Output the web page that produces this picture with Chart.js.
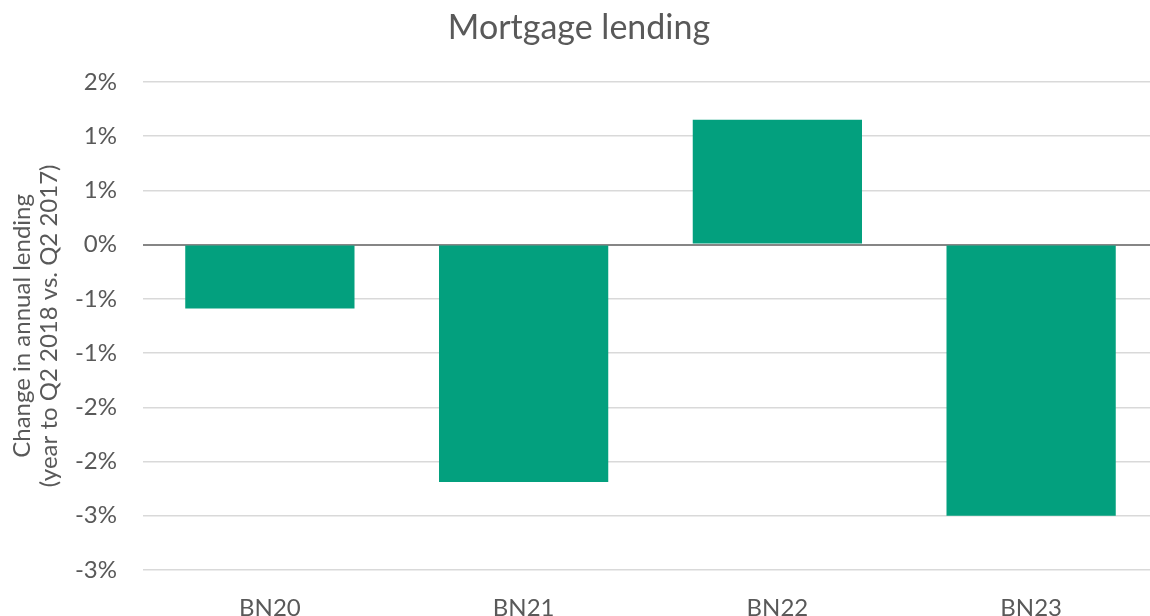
<!DOCTYPE html>
<html>
<head>
<meta charset="utf-8">
<script src="https://cdn.jsdelivr.net/npm/chart.js@4"></script>
<style>
  html, body { margin: 0; padding: 0; background: #fff; overflow: hidden; }
  /* the original plot area runs a little past the right edge of the picture */
  #wrap { width: 1158px; height: 616px; }
</style>
</head>
<body>
<div id="wrap"><canvas id="myChart"></canvas></div>
<script>
// areas and change in annual lending, in percent
const areas = ['BN20', 'BN21', 'BN22', 'BN23'];
const lendingChange = [-0.59, -2.19, 1.15, -2.50];
// axis range and step as in the original (labels are rounded to whole %)
const yMin = -3;
const yMax = 1.5;
const yStep = 0.5;

const textGrey = '#595959';

// excel style rounding: half away from zero, no "-0%"
const fmtPct = (v) => {
  let r = Math.sign(v) * Math.round(Math.abs(v));
  if (r === 0) r = 0;
  return r + '%';
};

new Chart(document.getElementById('myChart'), {
  type: 'bar',
  data: {
    labels: areas,
    datasets: [{
      data: lendingChange,
      backgroundColor: '#03A07E',
      borderWidth: 0,
      categoryPercentage: 1,
      barPercentage: 0.667
    }]
  },
  options: {
    responsive: true,
    maintainAspectRatio: false,
    animation: false,
    layout: { padding: 0 },
    plugins: {
      legend: { display: false },
      tooltip: { enabled: false },
      title: {
        display: true,
        text: 'Mortgage lending',
        color: textGrey,
        font: { family: 'Lato', size: 34, weight: 'normal' },
        padding: { top: 8, bottom: 33 }
      }
    },
    scales: {
      x: {
        afterFit: (scale) => { scale.height = 46; },
        grid: { display: false, drawTicks: false },
        border: { display: false },
        ticks: {
          color: textGrey,
          font: { family: 'Lato', size: 24 },
          padding: 24
        }
      },
      y: {
        min: yMin,
        max: yMax,
        afterFit: (scale) => { scale.width = 143; },
        grid: {
          drawTicks: false,
          color: (ctx) => ctx.tick && ctx.tick.value === 0 ? '#868686' : '#D9D9D9',
          lineWidth: (ctx) => ctx.tick && ctx.tick.value === 0 ? 2 : 1.5
        },
        border: { display: false },
        ticks: {
          stepSize: yStep,
          color: textGrey,
          font: { family: 'Lato', size: 24 },
          padding: 26,
          callback: (v) => fmtPct(v)
        },
        title: {
          display: true,
          text: ['Change in annual lending', '(year to Q2 2018 vs. Q2 2017)'],
          color: textGrey,
          font: { family: 'Lato', size: 24, lineHeight: 1.15 },
          padding: { top: 8, bottom: 0 }
        }
      }
    }
  }
});
</script>
</body>
</html>
